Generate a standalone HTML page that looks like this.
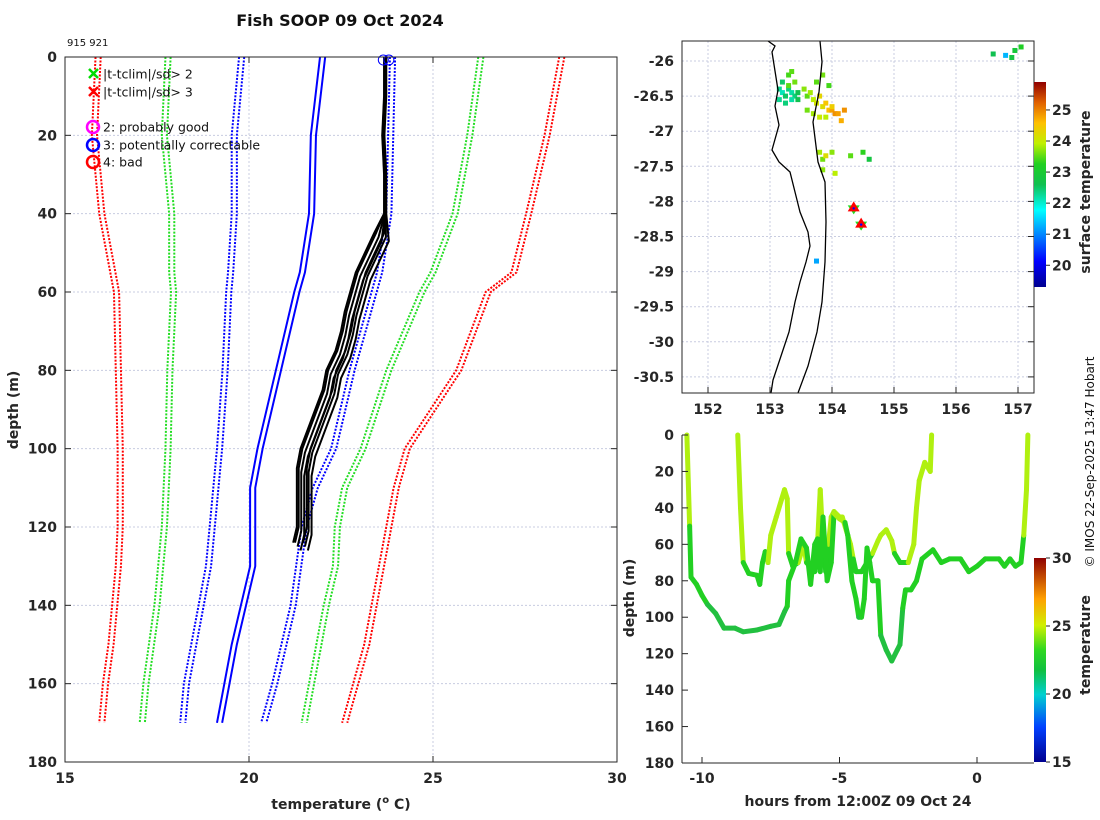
<!DOCTYPE html>
<html><head><meta charset="utf-8"><style>
body{margin:0;background:#fff}
svg{display:block;font-family:"DejaVu Sans","Liberation Sans",sans-serif}
.tk{font-weight:bold;font-size:14px;fill:#262626}
</style></head><body>
<svg id="s" width="1100" height="820" viewBox="0 0 1100 820">
<defs>
<linearGradient id="jet" x1="0" y1="1" x2="0" y2="0">
<stop offset="0" stop-color="#00008f"/><stop offset="0.125" stop-color="#0000ff"/><stop offset="0.375" stop-color="#00ffff"/><stop offset="0.5" stop-color="#10c050"/><stop offset="0.6" stop-color="#20d020"/><stop offset="0.7" stop-color="#c0f000"/><stop offset="0.8" stop-color="#ffc000"/><stop offset="0.9" stop-color="#e06000"/><stop offset="1" stop-color="#8f0000"/>
</linearGradient>
<linearGradient id="jet2" x1="0" y1="1" x2="0" y2="0">
<stop offset="0" stop-color="#00008f"/><stop offset="0.17" stop-color="#0040ff"/><stop offset="0.33" stop-color="#00d0d0"/><stop offset="0.45" stop-color="#10c040"/><stop offset="0.55" stop-color="#30d820"/><stop offset="0.67" stop-color="#d0f000"/><stop offset="0.8" stop-color="#ffa000"/><stop offset="1" stop-color="#8f0000"/>
</linearGradient>
</defs>
<text x="340" y="26" text-anchor="middle" font-size="16" font-weight="bold" fill="#111">Fish SOOP 09 Oct 2024</text>
<text x="67" y="46" font-size="10" fill="#111">915 921</text>
<g id="main"></g>
<g id="map"></g>
<g id="sec"></g>
<text transform="translate(1094,462) rotate(-90)" text-anchor="middle" font-size="12" fill="#111">© IMOS 22-Sep-2025 13:47 Hobart</text>
</svg>
<script>
// ---------- main profile data ----------
const climDepths=[0,20,40,55,60,80,100,110,120,130,140,150,160,170];
const red3Lo=[15.9,15.8,16.0,16.3,16.4,16.45,16.5,16.5,16.5,16.45,16.35,16.25,16.1,16.0];
const grn2Lo=[17.8,17.7,17.9,17.9,17.95,17.85,17.8,17.75,17.7,17.6,17.5,17.35,17.2,17.1];
const blu1Lo=[19.8,19.6,19.6,19.5,19.45,19.35,19.2,19.1,19.0,18.9,18.7,18.5,18.3,18.2];
const meanT=[22.0,21.75,21.7,21.45,21.3,20.8,20.3,20.1,20.1,20.1,19.85,19.6,19.4,19.2];
const blu1Hi=[23.9,23.85,23.8,23.55,23.4,22.8,22.3,21.8,21.5,21.35,21.2,20.95,20.7,20.4];
const grn2Hi=[26.3,26.0,25.6,25.0,24.7,23.8,23.1,22.6,22.4,22.35,22.1,21.9,21.7,21.5];
const red3Hi=[28.5,28.1,27.6,27.2,26.5,25.7,24.3,24.0,23.8,23.6,23.4,23.2,22.9,22.6];
const obsDepths=[0,10,20,30,40,45,50,55,60,65,70,75,80,85,90,95,100,105,110,115,120,124];
const obsT=[23.7,23.7,23.65,23.7,23.7,23.6,23.35,23.1,22.95,22.8,22.7,22.55,22.3,22.2,22.0,21.8,21.6,21.5,21.5,21.5,21.5,21.4];
const xTicks=[15,20,25,30];
const yTicks=[0,20,40,60,80,100,120,140,160,180];

// ---------- map data ----------
const lonTicks=[152,153,154,155,156,157];
const latTicks=[-26,-26.5,-27,-27.5,-28,-28.5,-29,-29.5,-30,-30.5];
const sstLon=[153.15,153.2,153.25,153.3,153.35,153.4,153.45,153.15,153.25,153.35,153.45,153.2,153.3,153.4,153.3,153.35,153.55,153.6,153.65,153.7,153.75,153.8,153.85,153.9,153.95,154.0,154.05,153.6,153.7,153.8,153.9,154.0,154.1,154.15,154.2,153.75,153.85,153.95,153.8,153.85,153.9,154.0,154.05,154.3,154.5,154.6,153.85,153.75,156.6,156.8,156.95,157.05,156.9];
const sstLat=[-26.4,-26.45,-26.5,-26.4,-26.45,-26.5,-26.55,-26.55,-26.6,-26.55,-26.45,-26.3,-26.35,-26.3,-26.2,-26.15,-26.4,-26.5,-26.45,-26.55,-26.6,-26.5,-26.65,-26.6,-26.7,-26.7,-26.75,-26.7,-26.75,-26.8,-26.8,-26.65,-26.75,-26.85,-26.7,-26.3,-26.2,-26.35,-27.3,-27.4,-27.35,-27.3,-27.6,-27.35,-27.3,-27.4,-27.55,-28.85,-25.9,-25.92,-25.85,-25.8,-25.95];
const sstVal=[22.3,22.1,22.5,22.4,22.2,22.4,22.6,22.3,22.4,22.2,22.6,22.5,23.5,23.6,23.4,23.5,23.7,23.5,23.8,23.9,24.1,24.3,24.2,24.5,24.6,24.8,24.9,23.6,23.8,24.0,23.9,24.4,24.8,24.7,24.9,23.5,23.6,23.4,23.8,23.6,24.2,23.7,23.9,23.5,23.3,22.8,23.7,21.2,22.6,21.3,22.9,23.2,22.8];
const shipLon=[154.35,154.47];
const shipLat=[-28.1,-28.33];
const cbTicks=[20,21,22,23,24,25];

// ---------- time-depth data ----------
const tA=[-10.55,-10.45,-10.4,-10.2,-10,-9.8,-9.5,-9.2,-8.8,-8.5,-8,-7.5,-7.2,-7,-6.9,-6.85,-6.6,-6.4,-6.2,-6.05,-5.9,-5.8,-5.7,-5.6,-5.45,-5.3,-5.2,-5,-4.8,-4.7,-4.55,-4.4,-4.3,-4.2,-4.1,-4,-3.9,-3.8,-3.6,-3.5,-3.3,-3.1,-2.9,-2.8,-2.7,-2.6,-2.4,-2.2,-2,-1.6,-1.3,-1,-0.6,-0.3,0,0.3,0.8,1,1.2,1.4,1.6,1.7,1.8,1.85];
const dA=[0,50,78,82,88,93,98,106,106,108,107,105,104,97,94,80,70,57,62,82,60,57,75,45,80,70,43,46,48,55,80,90,100,100,90,62,70,80,80,110,118,124,118,115,95,85,85,80,68,63,70,68,68,75,72,68,68,72,68,72,70,55,30,0];
const tB=[-8.7,-8.6,-8.5,-8.3,-8.0,-7.9,-7.8,-7.7,-7.6,-7.5,-7.3,-7.1,-7.0,-6.9,-6.85,-6.7,-6.5,-6.3,-6.2,-5.9,-5.8,-5.7,-5.6,-5.5,-5.4,-5.3,-5.2,-5.0,-4.9,-4.7,-4.6,-4.5,-4.4,-4.2,-4.0,-3.8,-3.6,-3.5,-3.3,-3.1,-3.0,-2.8,-2.5,-2.3,-2.2,-2.1,-1.9,-1.7,-1.65];
const dB=[0,40,70,76,77,82,70,64,70,55,45,35,30,35,65,72,70,60,70,75,60,30,60,75,60,45,42,45,45,55,60,68,75,75,70,65,58,55,52,58,65,70,70,60,40,25,15,20,0];
const hTicks=[-10,-5,0];
const dTicks=[0,20,40,60,80,100,120,140,160,180];
const cb2Ticks=[15,20,25,30];

const NS="http://www.w3.org/2000/svg";
function mk(p,tag,at){const e=document.createElementNS(NS,tag);for(const k in at)e.setAttribute(k,at[k]);p.appendChild(e);return e;}

// ===== main plot =====
const M=document.getElementById('main');
const mx=t=>65+(t-15)*552/15, my=d=>57+d*705/180;
for(const t of xTicks){if(t>15&&t<30){const l=mk(M,'line',{x1:mx(t),x2:mx(t),y1:57,y2:762,stroke:'#c8cce0','stroke-dasharray':'2,2','stroke-width':1});

}}
for(const d of yTicks){if(d>0&&d<180){const l=mk(M,'line',{x1:65,x2:617,y1:my(d),y2:my(d),stroke:'#c8cce0','stroke-dasharray':'2,2','stroke-width':1});

}}
function prof(arr,off,col,dash,w,name){
  const pts=arr.map((v,i)=>mx(v+off)+','+my(climDepths[i])).join(' ');
  const p=mk(M,'polyline',{points:pts,fill:'none',stroke:col,'stroke-width':w,'stroke-dasharray':dash});
  
  
}
[[red3Lo,'#ff0000','red-3sd-low'],[grn2Lo,'#22dd22','green-2sd-low'],[blu1Lo,'#0000ff','blue-1sd-low'],[blu1Hi,'#0000ff','blue-1sd-high'],[grn2Hi,'#22dd22','green-2sd-high'],[red3Hi,'#ff0000','red-3sd-high']].forEach(a=>{prof(a[0],-0.07,a[1],'2,1.5',2,a[2]);prof(a[0],0.07,a[1],'2,1.5',2,a[2]);});
prof(meanT,-0.07,'#0000ff','',2,'climatology-mean');prof(meanT,0.07,'#0000ff','',2,'climatology-mean');
const offs=[-0.15,-0.08,0,0.07,0.12,0.2,-0.2];
offs.forEach((o,k)=>{
  const pts=obsT.map((v,i)=>mx(v+o*(obsDepths[i]>40?1:0.15))+','+my(obsDepths[i]+(obsDepths[i]>40?k%3:0))).join(' ');
  const p=mk(M,'polyline',{points:pts,fill:'none',stroke:'#000','stroke-width':2});
  
  
});
mk(M,'circle',{cx:mx(23.65),cy:60,r:5,fill:'none',stroke:'#0000ff','stroke-width':1});
mk(M,'circle',{cx:mx(23.8),cy:60,r:5,fill:'none',stroke:'#0000ff','stroke-width':1});
const fr=mk(M,'rect',{x:65,y:57,width:552,height:705,fill:'none',stroke:'#262626','stroke-width':1});


for(const t of xTicks){const x=mx(t);mk(M,'line',{x1:x,x2:x,y1:762,y2:756,stroke:'#262626'});mk(M,'line',{x1:x,x2:x,y1:57,y2:63,stroke:'#262626'});
const tx=mk(M,'text',{x:x,y:783,'text-anchor':'middle',class:'tk'});tx.textContent=t;

}
for(const d of yTicks){const y=my(d);mk(M,'line',{x1:65,x2:71,y1:y,y2:y,stroke:'#262626'});mk(M,'line',{x1:617,x2:611,y1:y,y2:y,stroke:'#262626'});
const tx=mk(M,'text',{x:57,y:y+5,'text-anchor':'end',class:'tk'});tx.textContent=d;

}
let t1=mk(M,'text',{x:341,y:809,'text-anchor':'middle',class:'tk','font-size':'16'});t1.innerHTML='temperature (<tspan font-size="10" dy="-6">o</tspan><tspan dy="6"> C)</tspan>';


t1=mk(M,'text',{transform:'translate(18,410) rotate(-90)','text-anchor':'middle',class:'tk','font-size':'16'});t1.textContent='depth (m)';


// legend
const lg=[['x','#00dd00','|t-tclim|/sd> 2',74],['x','#ff0000','|t-tclim|/sd> 3',92],['o','#ff00ff','2: probably good',127],['o','#0000ff','3: potentially correctable',145],['o','#ff0000','4: bad',162]];
lg.forEach(l=>{
  const g=mk(M,'g',{});
  
  
  if(l[0]=='x'){mk(g,'path',{d:`M89 ${l[3]-5}l9 9M98 ${l[3]-5}l-9 9`,stroke:l[1],'stroke-width':2.5});}
  else mk(g,'circle',{cx:93,cy:l[3],r:6,fill:'none',stroke:l[1],'stroke-width':2.5});
  const t=mk(g,'text',{x:103,y:l[3]+4.5,'font-size':'12.5',fill:'#111'});t.textContent=l[2];
});

// ===== map =====
const P=document.getElementById('map');
const lx=v=>708+(v-152)*62, ly=v=>61+(-26-v)*70.2;
for(const v of lonTicks){mk(P,'line',{x1:lx(v),x2:lx(v),y1:41,y2:393,stroke:'#c8cce0','stroke-dasharray':'2,2'});}
for(const v of latTicks){mk(P,'line',{x1:682,x2:1034,y1:ly(v),y2:ly(v),stroke:'#c8cce0','stroke-dasharray':'2,2'});}
function jet(v,lo,hi){const f=(v-lo)/(hi-lo);const st=[[0,[0,0,143]],[0.125,[0,0,255]],[0.375,[0,255,255]],[0.5,[16,192,80]],[0.6,[32,208,32]],[0.7,[192,240,0]],[0.8,[255,192,0]],[0.9,[224,96,0]],[1,[143,0,0]]];
 for(let i=1;i<st.length;i++){if(f<=st[i][0]){const a=st[i-1],b=st[i],u=(f-a[0])/(b[0]-a[0]);return 'rgb('+a[1].map((c,k)=>Math.round(c+(b[1][k]-c)*u)).join(',')+')';}}return 'rgb(143,0,0)';}
sstLon.forEach((lo,i)=>{const r=mk(P,'rect',{x:lx(lo)-2.5,y:ly(sstLat[i])-2.5,width:5,height:5,fill:jet(sstVal[i],19.3,25.9)});

});
let c=mk(P,'path',{d:'M768 41L775 46L772 52L778 90L775 106L779 125L772 150L779 162L790 172L795 192L800 212L808 232L810 246L806 262L800 282L795 302L789 332L781 356L773 380L771 393',fill:'none',stroke:'#000','stroke-width':1.3});


c=mk(P,'path',{d:'M820 41L822 62L819 92L813 122L818 162L825 182L826 222L825 262L822 302L817 332L808 366L798 393',fill:'none',stroke:'#000','stroke-width':1.3});


shipLon.forEach((lo,i)=>{const x=lx(lo),y=ly(shipLat[i]);const g=mk(P,'g',{});


mk(g,'path',{d:`M${x-6} ${y-3}h12l-6 9z`,fill:'#22dd22'});mk(g,'path',{d:`M${x} ${y-7}l6 10h-12z`,fill:'#ff0000'});mk(g,'circle',{cx:x,cy:y,r:1.2,fill:'#00f'});});
mk(P,'rect',{x:682,y:41,width:352,height:352,fill:'none',stroke:'#262626'});
for(const v of lonTicks){const x=lx(v);mk(P,'line',{x1:x,x2:x,y1:393,y2:387,stroke:'#262626'});
const t=mk(P,'text',{x:x,y:414,'text-anchor':'middle',class:'tk'});t.textContent=v;

}
for(const v of latTicks){const y=ly(v);mk(P,'line',{x1:1034,x2:1028,y1:y,y2:y,stroke:'#262626'});
const t=mk(P,'text',{x:674,y:y+5,'text-anchor':'end',class:'tk'});t.textContent=v;

}
let cb=mk(P,'rect',{x:1034,y:82,width:12,height:205,fill:'url(#jet)'});


const cby=v=>287-(v-19.3)*205/6.6;
for(const v of cbTicks){mk(P,'line',{x1:1046,x2:1050,y1:cby(v),y2:cby(v),stroke:'#262626'});
const t=mk(P,'text',{x:1052,y:cby(v)+5,class:'tk'});t.textContent=v;

}
t1=mk(P,'text',{transform:'translate(1090,192) rotate(-90)','text-anchor':'middle',class:'tk'});t1.textContent='surface temperature';



// ===== time-depth =====
const S=document.getElementById('sec');
const hx=t=>977+t*27.5, hy=d=>435+d*328/180;
function trace(ts,ds,name,thr){
  for(let i=1;i<ts.length;i++){const dm=(ds[i]+ds[i-1])/2;
    const col=dm<thr?'#b0f010':(dm>95?'#22c040':'#22d022');
    const l=mk(S,'line',{x1:hx(ts[i-1]),y1:hy(ds[i-1]),x2:hx(ts[i]),y2:hy(ds[i]),stroke:col,'stroke-width':5,'stroke-linecap':'round'});
    
    }
}
trace(tB,dB,'trace-shallow',66);
trace(tA,dA,'trace-deep',50);
mk(S,'line',{x1:682,x2:682,y1:435,y2:763,stroke:'#262626'});
mk(S,'line',{x1:682,x2:1034,y1:763,y2:763,stroke:'#262626'});
for(const v of hTicks){const x=hx(v);mk(S,'line',{x1:x,x2:x,y1:763,y2:757,stroke:'#262626'});
const t=mk(S,'text',{x:x,y:783,'text-anchor':'middle',class:'tk'});t.textContent=v;

}
for(const v of dTicks){const y=hy(v);mk(S,'line',{x1:682,x2:688,y1:y,y2:y,stroke:'#262626'});
const t=mk(S,'text',{x:674,y:y+5,'text-anchor':'end',class:'tk'});t.textContent=v;

}
t1=mk(S,'text',{x:858,y:806,'text-anchor':'middle',class:'tk','font-size':'16'});t1.textContent='hours from 12:00Z 09 Oct 24';


t1=mk(S,'text',{transform:'translate(634,598) rotate(-90)','text-anchor':'middle',class:'tk','font-size':'16'});t1.textContent='depth (m)';


cb=mk(S,'rect',{x:1034,y:558,width:12,height:204,fill:'url(#jet2)'});


const cy2=v=>762-(v-15)*204/15;
for(const v of cb2Ticks){mk(S,'line',{x1:1046,x2:1050,y1:cy2(v),y2:cy2(v),stroke:'#262626'});
const t=mk(S,'text',{x:1052,y:cy2(v)+5,class:'tk'});t.textContent=v;

}
t1=mk(S,'text',{transform:'translate(1090,645) rotate(-90)','text-anchor':'middle',class:'tk'});t1.textContent='temperature';


</script>
</body></html>
